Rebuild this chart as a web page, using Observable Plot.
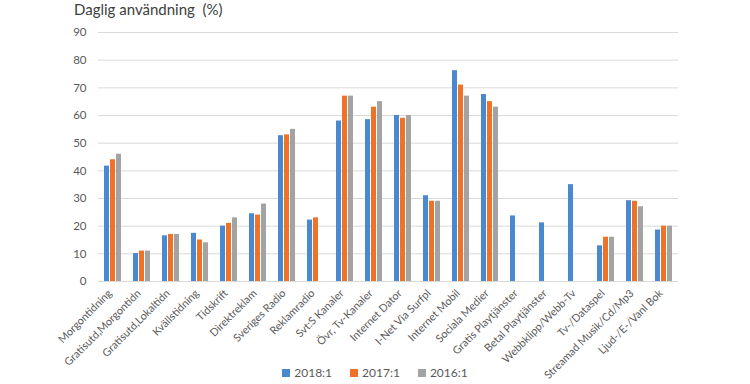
<!DOCTYPE html>
<html>
<head>
<meta charset="utf-8">
<script src="https://cdn.jsdelivr.net/npm/d3@7"></script>
<script src="https://cdn.jsdelivr.net/npm/@observablehq/plot@0.6"></script>
<style>
  body { margin: 0; background: #fff; }
  #wrap { position: relative; width: 750px; height: 384px; font-family: Lato, "Open Sans", sans-serif; }
  #title { position: absolute; left: 74px; top: 0px; font-size: 15px; color: #404040; }
  #chart { position: absolute; left: 0; top: 20px; }
  #legend { position: absolute; left: 0; top: 365px; width: 750px; text-align: center; font-size: 12px; color: #595959; }
  #legend span.item { display: inline-block; margin: 0 9px; }
  #legend span.sw { display: inline-block; width: 8px; height: 8px; margin-right: 4px; vertical-align: 0px; }
</style>
</head>
<body>
<div id="wrap">
  <div id="title">Daglig användning&nbsp; (%)</div>
  <div id="chart"></div>
  <div id="legend"></div>
</div>
<script>
const categories = [
  "Morgontidning", "Gratisutd,Morgontidn", "Gratisutd,Lokaltidn", "Kvällstidning",
  "Tidskrift", "Direktreklam", "Sveriges Radio", "Reklamradio", "Svt:S Kanaler",
  "Övr, Tv-Kanaler", "Internet Dator", "I-Net Via Surfpl", "Internet Mobil",
  "Sociala Medier", "Gratis Playtjänster", "Betal Playtjänster", "Webbklipp/Webb-Tv",
  "Tv-/Dataspel", "Streamad Musik/Cd/Mp3", "Ljud-/E-/Vanl Bok"
];
const series = ["2018:1", "2017:1", "2016:1"];
const v2018 = [41.7, 10.1, 16.5, 17.4, 20, 24.5, 52.7, 22.2, 58, 58.5, 60, 31, 76.2, 67.6, 23.7, 21.2, 35, 12.9, 29.2, 18.6];
const v2017 = [44, 11, 17, 15, 21, 24, 53, 23, 67, 63, 59, 29, 71, 65, null, null, null, 16, 29, 20];
const v2016 = [46, 11, 17, 14, 23, 28, 55, null, 67, 65, 60, 29, 67, 63, null, null, null, 16, 27, 20];
const colors = ["#4a88cf", "#ef7229", "#a3a3a3"];
const yTicks = [0, 10, 20, 30, 40, 50, 60, 70, 80, 90];

const valuesBySeries = [v2018, v2017, v2016];
const data = [];
categories.forEach((c, i) => {
  series.forEach((s, j) => {
    const v = valuesBySeries[j][i];
    if (v != null) data.push({category: c, series: s, value: v});
  });
});

const chart = Plot.plot({
  width: 750,
  height: 364,
  marginTop: 12,
  marginBottom: 103,
  marginLeft: 90,
  marginRight: 64,
  style: {fontFamily: "Lato, 'Open Sans', sans-serif", fontSize: "11px", color: "#595959", overflow: "visible"},
  fx: {domain: categories, padding: 0, label: null},
  x: {domain: series, padding: 0.12, paddingOuter: 0.85, axis: null},
  y: {domain: [0, 90], ticks: yTicks, label: null},
  color: {domain: series, range: colors},
  marks: [
    Plot.gridY(yTicks, {stroke: "#d9d9d9", strokeOpacity: 1}),
    Plot.axisY(yTicks, {tickSize: 0, tickPadding: 12, fill: "#595959", fontSize: 11.5}),
    Plot.axisFx({anchor: "bottom", tickRotate: -45, tickSize: 0, tickPadding: 10, dx: -3, fill: "#595959", fontSize: 10.8, label: null}),
    Plot.barY(data, {fx: "category", x: "series", y: "value", fill: "series"})
  ]
});
document.getElementById("chart").appendChild(chart);

const legend = document.getElementById("legend");
series.forEach((s, j) => {
  const item = document.createElement("span");
  item.className = "item";
  const sw = document.createElement("span");
  sw.className = "sw";
  sw.style.background = colors[j];
  item.appendChild(sw);
  item.appendChild(document.createTextNode(s));
  legend.appendChild(item);
});
</script>
</body>
</html>
